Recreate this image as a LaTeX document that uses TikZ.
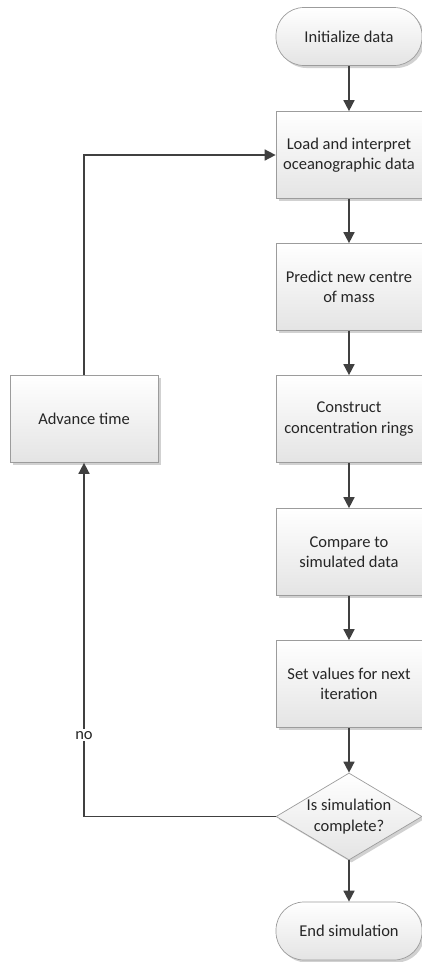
\documentclass[tikz,border=0pt]{standalone}
\usepackage{fontspec}
\setmainfont{Carlito}
\usetikzlibrary{arrows.meta,shapes.geometric,shadows}
\definecolor{edge}{HTML}{9C9C9C}
\definecolor{arrowc}{HTML}{404040}
\definecolor{botc}{HTML}{E4E4E4}
\tikzset{
  txt/.style={font=\fontsize{16.5}{20.5}\selectfont, text=black!85},
  shapebase/.style={draw=edge, line width=0.7pt, top color=white, bottom color=botc,
    drop shadow={shadow xshift=2.5pt, shadow yshift=-2.5pt, fill=black!18, opacity=1},
    align=center, txt, inner sep=0pt},
  stepbox/.style={shapebase, rectangle, minimum width=146pt, minimum height=87pt},
  termbox/.style={shapebase, rectangle, rounded corners=28pt, minimum width=146pt, minimum height=58pt},
  decbox/.style={shapebase, diamond, aspect=1.667, minimum width=146pt, minimum height=87pt},
  flow/.style={draw=arrowc, line width=1.6pt, -{Triangle[length=11pt,width=11pt]}},
}
\begin{document}
\begin{tikzpicture}[x=1pt,y=-1pt]
\useasboundingbox (0,0) rectangle (421,962);
\node[termbox] (init) at (349,36.5) {Initialize data};
\node[stepbox] (load) at (349,155) {Load and interpret\\oceanographic data};
\node[stepbox] (pred) at (349,287) {Predict new centre\\of mass};
\node[stepbox] (cons) at (349,419) {Construct\\concentration rings};
\node[stepbox] (comp) at (349,552) {Compare to\\simulated data};
\node[stepbox] (setv) at (349,684) {Set values for next\\iteration};
\node[decbox] (dec) at (349,816.5) {Is simulation\\complete?};
\node[termbox] (endn) at (349,931) {End simulation};
\node[stepbox, minimum width=148pt] (adv) at (84,419) {Advance time};
\draw[flow] (init) -- (load);
\draw[flow] (load) -- (pred);
\draw[flow] (pred) -- (cons);
\draw[flow] (cons) -- (comp);
\draw[flow] (comp) -- (setv);
\draw[flow] (setv) -- (dec);
\draw[flow] (dec) -- (endn);
\draw[flow] (dec.west) -| node[pos=0.615, fill=white, inner sep=2pt, txt] (nolab) {no} (adv.south);
\draw[flow] (adv.north) |- (load.west);
\end{tikzpicture}
\end{document}
